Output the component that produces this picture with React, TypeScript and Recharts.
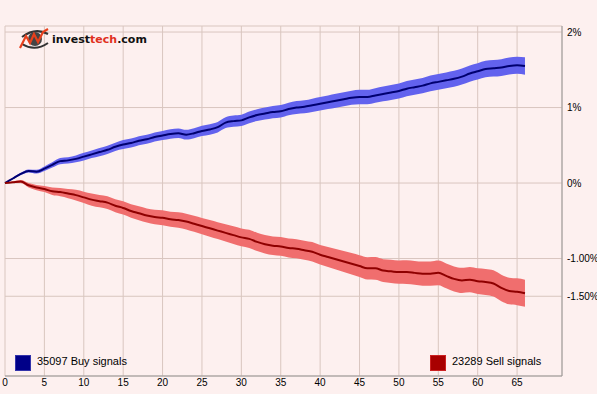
import React from 'react'
import {
  ComposedChart,
  Area,
  Line,
  XAxis,
  YAxis,
  CartesianGrid,
} from 'recharts'

// trading days after signal
const days = Array.from({ length: 67 }, (_, i) => i)

// average return (%) after buy signals
const buyAvg = [
  0, 0.06, 0.12, 0.16, 0.15, 0.19, 0.24, 0.29, 0.3, 0.32, 0.35, 0.38, 0.41, 0.44, 0.48, 0.51, 0.53,
  0.56, 0.58, 0.61, 0.63, 0.65, 0.66, 0.64, 0.66, 0.69, 0.71, 0.74, 0.8, 0.82, 0.83, 0.87, 0.9,
  0.92, 0.94, 0.95, 0.98, 1.0, 1.01, 1.03, 1.05, 1.07, 1.09, 1.11, 1.13, 1.14, 1.14, 1.16, 1.18,
  1.2, 1.22, 1.25, 1.27, 1.29, 1.32, 1.34, 1.36, 1.38, 1.41, 1.45, 1.48, 1.51, 1.52, 1.53, 1.55,
  1.56, 1.55,
]

// half width of the buy confidence band (%)
const buyBand = [
  0, 0.01, 0.015, 0.02, 0.025, 0.03, 0.035, 0.04, 0.04, 0.045, 0.05, 0.05, 0.055, 0.055, 0.055,
  0.06, 0.06, 0.06, 0.06, 0.06, 0.06, 0.062, 0.063, 0.065, 0.066, 0.068, 0.07, 0.07, 0.072, 0.074,
  0.075, 0.077, 0.078, 0.08, 0.081, 0.082, 0.083, 0.085, 0.086, 0.088, 0.09, 0.091, 0.092, 0.093,
  0.094, 0.095, 0.096, 0.097, 0.098, 0.099, 0.1, 0.1, 0.101, 0.102, 0.103, 0.104, 0.105, 0.106,
  0.106, 0.107, 0.108, 0.109, 0.11, 0.111, 0.112, 0.113, 0.115,
]

// average return (%) after sell signals
const sellAvg = [
  0, 0.01, 0.02, -0.03, -0.06, -0.08, -0.11, -0.12, -0.14, -0.16, -0.19, -0.22, -0.24, -0.26,
  -0.3, -0.33, -0.37, -0.4, -0.43, -0.45, -0.46, -0.48, -0.49, -0.51, -0.54, -0.57, -0.6, -0.63,
  -0.66, -0.69, -0.72, -0.74, -0.78, -0.81, -0.83, -0.84, -0.86, -0.87, -0.89, -0.91, -0.95,
  -0.98, -1.01, -1.04, -1.07, -1.1, -1.13, -1.13, -1.16, -1.17, -1.18, -1.18, -1.19, -1.2, -1.2,
  -1.19, -1.23, -1.27, -1.29, -1.28, -1.3, -1.31, -1.33, -1.39, -1.43, -1.44, -1.46,
]

const sellBand = [
  0, 0.01, 0.02, 0.03, 0.035, 0.04, 0.05, 0.055, 0.06, 0.07, 0.075, 0.08, 0.082, 0.084, 0.086,
  0.088, 0.09, 0.092, 0.094, 0.096, 0.098, 0.1, 0.102, 0.104, 0.106, 0.108, 0.11, 0.112, 0.114,
  0.116, 0.118, 0.12, 0.121, 0.122, 0.123, 0.124, 0.125, 0.126, 0.127, 0.128, 0.13, 0.133, 0.136,
  0.139, 0.142, 0.145, 0.148, 0.15, 0.152, 0.154, 0.155, 0.157, 0.158, 0.16, 0.162, 0.163, 0.165,
  0.166, 0.167, 0.168, 0.17, 0.172, 0.174, 0.175, 0.177, 0.178, 0.18,
]

const xTicks = [0, 5, 10, 15, 20, 25, 30, 35, 40, 45, 50, 55, 60, 65]
const yTicks = [-1.5, -1, 0, 1, 2]
const yLabels: Record<string, string> = {
  '-1.5': '-1.50%',
  '-1': '-1.00%',
  '0': '0%',
  '1': '1%',
  '2': '2%',
}

const buyCount = 35097
const sellCount = 23289

const data = days.map((d, i) => ({
  day: d,
  buy: buyAvg[i],
  sell: sellAvg[i],
  buyRange: [buyAvg[i] - buyBand[i], buyAvg[i] + buyBand[i]],
  sellRange: [sellAvg[i] - sellBand[i], sellAvg[i] + sellBand[i]],
}))

const BG = '#fdf0ef'
const GRID = '#d9c6bf'
const BORDER = '#999999'
const tickStyle = { fill: '#000', fontSize: 10, fontFamily: '"Liberation Sans", Arial, sans-serif' }

function Logo() {
  return (
    <div style={{ position: 'absolute', left: 19, top: 28, display: 'flex', alignItems: 'center' }}>
      <svg width={32} height={22}>
        <path d="M3 9 Q16 -1 29 6" fill="none" stroke="#333" strokeWidth={2} />
        <path d="M3 16 Q16 24 29 15" fill="none" stroke="#333" strokeWidth={2} />
        <circle cx={16} cy={11} r={7} fill="#444" />
        <polyline
          points="1,20 7,8 11,15 15,6 19,14 24,4 29,1"
          fill="none"
          stroke="#e8401c"
          strokeWidth={2.2}
        />
      </svg>
      <span
        style={{
          marginLeft: 1,
          fontFamily: '"DejaVu Sans", Verdana, sans-serif',
          fontWeight: 'bold',
          fontSize: 11,
          color: '#111',
        }}
      >
        invest<span style={{ color: '#e0301e' }}>tech</span>.com
      </span>
    </div>
  )
}

function LegendItem({ left, color, edge, label }: { left: number; color: string; edge: string; label: string }) {
  return (
    <div style={{ position: 'absolute', left, top: 355, display: 'flex', alignItems: 'flex-start' }}>
      <div style={{ width: 14, height: 14, background: color, border: `1px solid ${edge}` }} />
      <span
        style={{
          marginLeft: 6,
          marginTop: -1,
          fontFamily: '"Liberation Sans", Arial, sans-serif',
          fontSize: 11,
          color: '#000',
          lineHeight: '14px',
        }}
      >
        {label}
      </span>
    </div>
  )
}

export default function App() {
  return (
    <div style={{ position: 'fixed', left: 0, top: 0, width: 597, height: 394, background: BG }}>
      <ComposedChart width={597} height={394} data={data} margin={{ top: 26, right: 0, bottom: 0, left: 5 }}>
        <CartesianGrid stroke={GRID} strokeWidth={1} />
        <XAxis
          dataKey="day"
          type="number"
          domain={[0, 70.7]}
          ticks={xTicks}
          height={18}
          tickLine={false}
          tickSize={2}
          tickMargin={1}
          axisLine={{ stroke: BORDER }}
          tick={tickStyle}
          interval={0}
        />
        <XAxis
          xAxisId="top"
          dataKey="day"
          type="number"
          orientation="top"
          domain={[0, 70.7]}
          height={0}
          tick={false}
          tickLine={false}
          axisLine={{ stroke: BORDER }}
        />
        <YAxis
          orientation="right"
          type="number"
          domain={[-2.556, 2.08]}
          ticks={yTicks}
          width={35}
          tickLine={false}
          tickSize={4}
          tickMargin={1}
          axisLine={{ stroke: BORDER }}
          tick={{ ...tickStyle, textAnchor: 'start' }}
          tickFormatter={(v: number) => yLabels[String(v)]}
          interval={0}
        />
        <Area
          type="monotone"
          dataKey="buyRange"
          stroke="none"
          fill="#6262ee"
          fillOpacity={1}
          isAnimationActive={false}
        />
        <Area
          type="monotone"
          dataKey="sellRange"
          stroke="none"
          fill="#f06e6e"
          fillOpacity={1}
          isAnimationActive={false}
        />
        <Line type="monotone" dataKey="buy" stroke="#000070" strokeWidth={2} dot={false} isAnimationActive={false} />
        <Line type="monotone" dataKey="sell" stroke="#8e0000" strokeWidth={2} dot={false} isAnimationActive={false} />
      </ComposedChart>
      <Logo />
      <LegendItem left={15} color="#000088" edge="#3333aa" label={`${buyCount} Buy signals`} />
      <LegendItem left={430} color="#a80000" edge="#cc2222" label={`${sellCount} Sell signals`} />
    </div>
  )
}
